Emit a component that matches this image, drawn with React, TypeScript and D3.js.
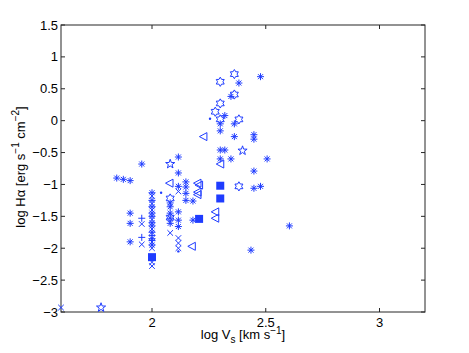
import React from 'react';
import * as d3 from 'd3';

// values: [log Vs, log Halpha]
const asterisks: [number, number][] = [
  [1.845, -0.9], [1.874, -0.92], [1.904, -0.94], [1.955, -0.68],
  [1.904, -1.45], [1.904, -1.61], [1.904, -1.9],
  [2.0, -1.13], [2.0, -1.25], [2.0, -1.35], [2.0, -1.45], [2.0, -1.5], [2.0, -1.6],
  [2.0, -1.65], [2.0, -1.75], [2.0, -1.85], [2.0, -1.95],
  [2.08, -1.29], [2.08, -1.35], [2.08, -1.45], [2.08, -1.53], [2.08, -1.61],
  [2.116, -0.57], [2.116, -0.82], [2.116, -1.03], [2.116, -1.43], [2.116, -1.56], [2.116, -1.66],
  [2.149, -0.96], [2.149, -1.04], [2.149, -1.14], [2.149, -1.25], [2.18, -1.26], [2.18, -1.56],
  [2.477, 0.69], [2.382, 0.59], [2.347, 0.38], [2.32, 0.08], [2.3, -0.05], [2.362, -0.05],
  [2.3, -0.16], [2.362, -0.25], [2.448, -0.22], [2.448, -0.29], [2.3, -0.46], [2.32, -0.46],
  [2.3, -0.6], [2.347, -0.6], [2.506, -0.6], [2.448, -0.79], [2.448, -1.06], [2.477, -1.03],
  [2.604, -1.65], [2.435, -2.03],
];
const hexagrams: [number, number][] = [
  [2.362, 0.73], [2.3, 0.61], [2.362, 0.41], [2.3, 0.27], [2.278, 0.14], [2.3, 0.02],
  [2.382, 0.02], [2.382, -1.03], [2.08, -1.22], [2.08, -1.52],
];
const pentagrams: [number, number][] = [[2.08, -0.68], [2.398, -0.47], [1.776, -2.93]];
const crosses: [number, number][] = [
  [1.6, -2.93], [1.955, -1.62], [1.955, -1.94],
  [2.0, -1.18], [2.0, -1.3], [2.0, -1.4], [2.0, -1.55], [2.0, -1.7], [2.0, -1.9], [2.0, -2.0],
  [2.0, -2.22], [2.0, -2.28], [2.08, -1.76], [2.116, -1.11], [2.116, -1.84], [2.116, -1.92], [2.116, -2.0],
];
const pluses: [number, number][] = [[1.955, -1.53], [1.955, -1.83], [2.0, -1.8], [2.0, -1.88]];
const triangles: [number, number][] = [
  [2.077, -0.98], [2.2, -0.98], [2.2, -1.12], [2.2, -1.16], [2.175, -1.97],
  [2.278, -1.43], [2.278, -1.53], [2.226, -0.25], [2.3, -0.68], [2.207, -1.01],
];
const squares: [number, number][] = [[2.3, -1.02], [2.3, -1.22], [2.207, -1.54], [2.0, -2.14]];
const dots: [number, number][] = [[2.04, -1.13], [2.255, 0.03], [2.116, -2.05]];

const xTicks = [2, 2.5, 3];
const yTicks = [-3, -2.5, -2, -1.5, -1, -0.5, 0, 0.5, 1, 1.5];

const W = 469, H = 353;
const L = 61, R = 425, T = 25, B = 312;
const BLUE = '#1f3cff';
const FONT = '"Liberation Sans", Arial, Helvetica, sans-serif';

const starPath = (n: number, ro: number, ri: number, rot: number) => {
  const pts = d3.range(n * 2).map(i => {
    const r = i % 2 === 0 ? ro : ri;
    const a = rot + (i * Math.PI) / n;
    return [r * Math.cos(a), r * Math.sin(a)];
  });
  return 'M' + pts.map(p => p[0].toFixed(2) + ',' + p[1].toFixed(2)).join('L') + 'Z';
};

const s = 3.5, a = 2.5;
const asteriskD = `M${-s},0L${s},0M0,${-s}L0,${s}M${-a},${-a}L${a},${a}M${-a},${a}L${a},${-a}`;
const crossD = `M-2.8,-2.8L2.8,2.8M-2.8,2.8L2.8,-2.8`;
const plusD = `M-3.5,0L3.5,0M0,-3.5L0,3.5`;
const hexD = starPath(6, 4.6, 2.7, -Math.PI / 2);
const pentD = starPath(5, 4.8, 1.9, -Math.PI / 2);
const triD = `M-4,0L3.5,-4L3.5,4Z`;

const fmt = (v: number) => (v < 0 ? '\u2212' + Math.abs(v) : String(v));

export default function App() {
  const x = d3.scaleLinear().domain([1.6, 3.2]).range([L, R]);
  const y = d3.scaleLinear().domain([-3, 1.5]).range([B, T]);

  const mark = (data: [number, number][], d: string, key: string) =>
    data.map((p, i) => (
      <path
        key={key + i}
        d={d}
        transform={`translate(${x(p[0])},${y(p[1])})`}
        fill="none"
        stroke={BLUE}
        strokeWidth={1}
      />
    ));

  return (
    <svg width={W} height={H} style={{ display: 'block', position: 'absolute', left: 0, top: 0, background: '#fff' }}>
      <rect x={0} y={0} width={W} height={H} fill="#fff" />
      <rect x={L} y={T} width={R - L} height={B - T} fill="#fff" stroke="#262626" strokeWidth={1} />
      {xTicks.map(t => (
        <g key={'x' + t}>
          <line x1={x(t)} x2={x(t)} y1={B} y2={B - 4} stroke="#262626" />
          <line x1={x(t)} x2={x(t)} y1={T} y2={T + 4} stroke="#262626" />
          <text x={x(t)} y={B + 15} textAnchor="middle" fontSize={13} fontFamily={FONT} fill="#000">
            {fmt(t)}
          </text>
        </g>
      ))}
      {yTicks.map(t => (
        <g key={'y' + t}>
          <line x1={L} x2={L + 4} y1={y(t)} y2={y(t)} stroke="#262626" />
          <line x1={R} x2={R - 4} y1={y(t)} y2={y(t)} stroke="#262626" />
          <text x={L - 3} y={y(t) + 4.5} textAnchor="end" fontSize={13} fontFamily={FONT} fill="#000">
            {fmt(t)}
          </text>
        </g>
      ))}
      <g>
        {mark(asterisks, asteriskD, 'a')}
        {mark(hexagrams, hexD, 'h')}
        {mark(pentagrams, pentD, 'p')}
        {mark(crosses, crossD, 'c')}
        {mark(pluses, plusD, 'l')}
        {mark(triangles, triD, 't')}
        {squares.map((p, i) => (
          <rect key={'s' + i} x={x(p[0]) - 4} y={y(p[1]) - 4} width={8} height={8} fill={BLUE} />
        ))}
        {dots.map((p, i) => (
          <circle key={'d' + i} cx={x(p[0])} cy={y(p[1])} r={1.2} fill={BLUE} />
        ))}
      </g>
      <text x={243} y={339} textAnchor="middle" fontSize={13} fontFamily={FONT} fill="#000">
        log V<tspan dy={4} fontSize={10}>s</tspan>
        <tspan dy={-4}> [km s</tspan>
        <tspan dy={-5} fontSize={10}>{'\u22121'}</tspan>
        <tspan dy={5}>]</tspan>
      </text>
      <text
        transform="translate(25,167) rotate(-90)"
        textAnchor="middle"
        fontSize={13}
        fontFamily={FONT}
        fill="#000"
      >
        log H{'\u03b1'} [erg s<tspan dy={-6} fontSize={10}>{'\u22121'}</tspan>
        <tspan dy={6}> cm</tspan>
        <tspan dy={-6} fontSize={10}>{'\u22122'}</tspan>
        <tspan dy={6}>]</tspan>
      </text>
    </svg>
  );
}
